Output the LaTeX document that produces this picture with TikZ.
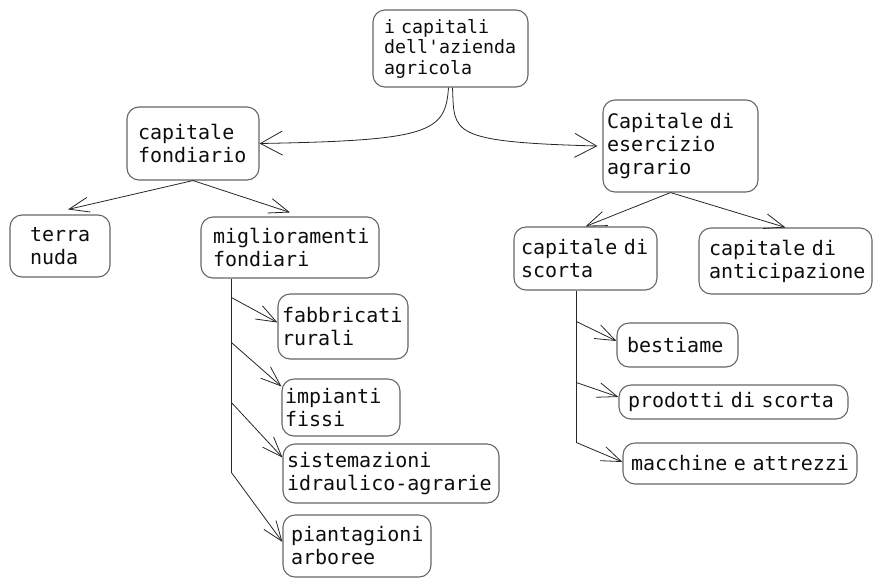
\documentclass[tikz,border=0pt]{standalone}
\usepackage{fontspec}
\setmonofont{DejaVu Sans Mono}
\usetikzlibrary{arrows.meta}

\begin{document}
\begin{tikzpicture}[
  x=1pt, y=-1pt,
  capbox/.style={rectangle, draw=black!60, line width=1.1pt, rounded corners=12pt, inner xsep=0pt, inner ysep=0pt, align=left, text=black!95, font=\ttfamily\fontsize{20}{23}\selectfont},
  link/.style={draw=black!85, line width=0.8pt},
  arr/.style={link, -{Straight Barb[length=20pt,width=15pt]}},
  bigarr/.style={link, -{Straight Barb[length=22pt,width=24pt]}}
]
\useasboundingbox (0,0) rectangle (882,587);

\node[capbox, minimum width=155pt, minimum height=77pt, text width=133pt, font=\ttfamily\fontsize{18.3}{20.5}\selectfont] (azienda) at (450.5,48.5) {i capitali\\dell'azienda\\agricola};

\node[capbox, minimum width=132pt, minimum height=73pt, text width=110pt] (fond) at (193,143.5) {capitale\\fondiario};
\node[capbox, minimum width=100pt, minimum height=62pt, text width=60pt] (terra) at (60,246) {terra\\nuda};
\node[capbox, minimum width=178pt, minimum height=61pt, text width=154pt] (migl) at (290,247.5) {miglioramenti\\fondiari};
\node[capbox, minimum width=130pt, minimum height=65pt, text width=122pt] (fabb) at (343,326.5) {fabbricati\\rurali};
\node[capbox, minimum width=118pt, minimum height=57pt, text width=112pt] (impi) at (341,407.5) {impianti\\fissi};
\node[capbox, minimum width=216pt, minimum height=59pt, text width=208pt] (sist) at (391,473.5) {sistemazioni\\idraulico-agrarie};
\node[capbox, minimum width=148pt, minimum height=62pt, text width=132pt] (pian) at (357,546) {piantagioni\\arboree};

\node[capbox, minimum width=155pt, minimum height=92pt, text width=147pt] (eser) at (680.5,146) {Capitale di\\esercizio\\agrario};
\node[capbox, minimum width=143pt, minimum height=63pt, text width=129pt] (scor) at (585.5,258.5) {capitale di\\scorta};
\node[capbox, minimum width=173pt, minimum height=66pt, text width=153pt] (anti) at (785.5,261) {capitale di\\anticipazione};
\node[capbox, minimum width=121pt, minimum height=44pt, text width=101pt] (best) at (677.5,345) {bestiame};
\node[capbox, minimum width=229pt, minimum height=34pt, text width=211pt] (prod) at (733.5,402) {\mbox{prodotti di scorta}};
\node[capbox, minimum width=234pt, minimum height=41pt, text width=218pt] (macc) at (740,463.5) {\mbox{macchine e attrezzi}};

\draw[bigarr] ([xshift=-2pt]azienda.south) .. controls +(-3,45) and +(170,-3) .. (fond.east);
\draw[bigarr] ([xshift=2pt]azienda.south) .. controls +(2,45) and +(-150,-4) .. ([xshift=-5pt]eser.west);

\draw[arr] (fond.south) -- ([xshift=8pt,yshift=5pt]terra.north);
\draw[arr] (fond.south) -- ([yshift=4pt]migl.north);
\draw[arr] ([xshift=-10pt]eser.south) -- (scor.north);
\draw[arr] ([xshift=-10pt]eser.south) -- (anti.north);

\coordinate (mtop) at ([xshift=31pt]migl.south west);
\coordinate (mbot) at ([yshift=-194pt]mtop);
\draw[link] (mtop) -- (mbot);
\foreach \s/\n/\d in {19/fabb/4, 64/impi/21, 124/sist/16, 194/pian/4}
  \draw[arr] ([yshift=-\s pt]mtop) -- ([yshift=\d pt]\n.west);

\coordinate (stop) at ([xshift=63pt]scor.south west);
\coordinate (sbot) at ([yshift=-152pt]stop);
\draw[link] (stop) -- (sbot);
\foreach \s/\n/\d in {31/best/4, 92/prod/5, 152/macc/1.5}
  \draw[arr] ([yshift=-\s pt]stop) -- ([yshift=\d pt]\n.west);
\end{tikzpicture}
\end{document}
